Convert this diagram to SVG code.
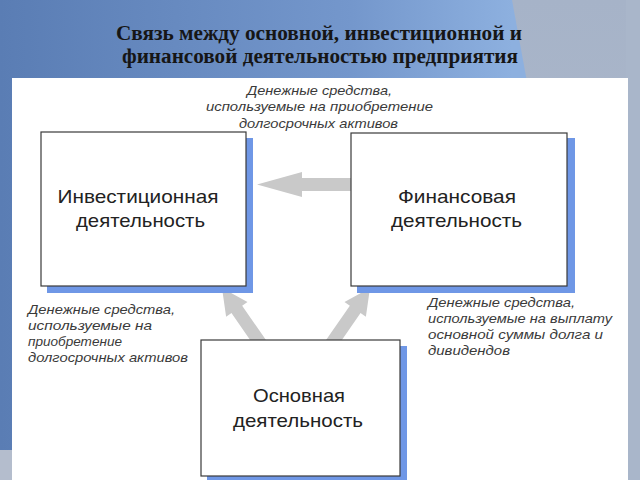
<svg xmlns="http://www.w3.org/2000/svg" width="640" height="480" viewBox="0 0 640 480">
  <defs>
    <linearGradient id="bg" x1="0" y1="0" x2="1" y2="0">
      <stop offset="0" stop-color="#5a7db4"/>
      <stop offset="0.55" stop-color="#7497cc"/>
      <stop offset="0.8" stop-color="#8db0df"/>
    </linearGradient>
    <linearGradient id="gray" x1="0" y1="0" x2="0" y2="1">
      <stop offset="0" stop-color="#a6b3c8"/>
      <stop offset="1" stop-color="#b3bdcd"/>
    </linearGradient>
    <style>
      .title { font-family: "Liberation Serif", "Times New Roman", serif; font-weight: bold; font-size: 20px; fill: #161616; text-anchor: middle; }
      .box { fill: #ffffff; stroke: #3a3a3a; stroke-width: 1.2; }
      .shadow { fill: #6f97e6; }
      .btxt { font-family: "Liberation Sans", Arial, sans-serif; font-size: 19px; fill: #222222; text-anchor: middle; }
      .lbl { font-family: "Liberation Sans", Arial, sans-serif; font-style: italic; font-size: 13.5px; fill: #3a3a3a; }
      .arrow { fill: #c9c9c9; }
    </style>
  </defs>

  <!-- background -->
  <rect x="0" y="0" width="640" height="480" fill="url(#bg)"/>
  <polygon points="512,0 640,0 640,480 600,480" fill="url(#gray)"/>
  <rect x="0" y="450" width="14" height="30" fill="#b4bdcd"/>
  <rect x="626" y="0" width="14" height="480" fill="#a9b6ca"/>
  <rect x="12" y="78" width="616" height="402" fill="#ffffff"/>

  <!-- title -->
  <text class="title" x="319" y="40" textLength="406" lengthAdjust="spacingAndGlyphs">Связь между основной, инвестиционной и</text>
  <text class="title" x="320" y="63" textLength="396" lengthAdjust="spacingAndGlyphs">финансовой деятельностью предприятия</text>

  <!-- connectors -->
  <g id="connectors">
    <polygon class="arrow" transform="translate(257,184.5)" points="0,0 45,-12.5 45,-6.5 96,-6.5 96,6.5 45,6.5 45,12.5"/>
    <polygon class="arrow" transform="translate(222,288) rotate(55.3)" points="0,0 26,-13 26,-6.5 70,-6.5 70,6.5 26,6.5 26,13"/>
    <polygon class="arrow" transform="translate(370,288) rotate(124.7)" points="0,0 26,-13 26,-6.5 70,-6.5 70,6.5 26,6.5 26,13"/>
  </g>

  <!-- edge labels -->
  <g id="label-top">
    <text class="lbl" x="247" y="95" textLength="145" lengthAdjust="spacingAndGlyphs">Денежные  средства,</text>
    <text class="lbl" x="206" y="111" textLength="227" lengthAdjust="spacingAndGlyphs">используемые на приобретение</text>
    <text class="lbl" x="239" y="128" textLength="159" lengthAdjust="spacingAndGlyphs">долгосрочных активов</text>
  </g>
  <g id="label-left">
    <text class="lbl" x="28" y="314" textLength="147" lengthAdjust="spacingAndGlyphs">Денежные средства,</text>
    <text class="lbl" x="28" y="330" textLength="124" lengthAdjust="spacingAndGlyphs">используемые на</text>
    <text class="lbl" x="28" y="346" textLength="94" lengthAdjust="spacingAndGlyphs">приобретение</text>
    <text class="lbl" x="28" y="362" textLength="160" lengthAdjust="spacingAndGlyphs">долгосрочных активов</text>
  </g>
  <g id="label-right">
    <text class="lbl" x="428" y="307" textLength="147" lengthAdjust="spacingAndGlyphs">Денежные средства,</text>
    <text class="lbl" x="428" y="323" textLength="184" lengthAdjust="spacingAndGlyphs">используемые на выплату</text>
    <text class="lbl" x="428" y="339" textLength="175" lengthAdjust="spacingAndGlyphs">основной суммы долга и</text>
    <text class="lbl" x="428" y="355" textLength="82" lengthAdjust="spacingAndGlyphs">дивидендов</text>
  </g>

  <!-- nodes -->
  <g id="node-invest">
    <rect class="shadow" x="47" y="138" width="206" height="155"/>
    <rect class="box" x="41" y="132" width="205" height="154"/>
    <text class="btxt" x="138" y="203" textLength="161" lengthAdjust="spacingAndGlyphs">Инвестиционная</text>
    <text class="btxt" x="140.5" y="227" textLength="129" lengthAdjust="spacingAndGlyphs">деятельность</text>
  </g>
  <g id="node-finance">
    <rect class="shadow" x="357" y="138" width="218" height="155"/>
    <rect class="box" x="351" y="133" width="216" height="153"/>
    <text class="btxt" x="457" y="203" textLength="118" lengthAdjust="spacingAndGlyphs">Финансовая</text>
    <text class="btxt" x="456.5" y="227" textLength="131" lengthAdjust="spacingAndGlyphs">деятельность</text>
  </g>
  <g id="node-main">
    <rect class="shadow" x="207" y="346" width="200" height="140"/>
    <rect class="box" x="201" y="340" width="199" height="136"/>
    <text class="btxt" x="299" y="402" textLength="92" lengthAdjust="spacingAndGlyphs">Основная</text>
    <text class="btxt" x="298" y="427" textLength="130" lengthAdjust="spacingAndGlyphs">деятельность</text>
  </g>
</svg>
